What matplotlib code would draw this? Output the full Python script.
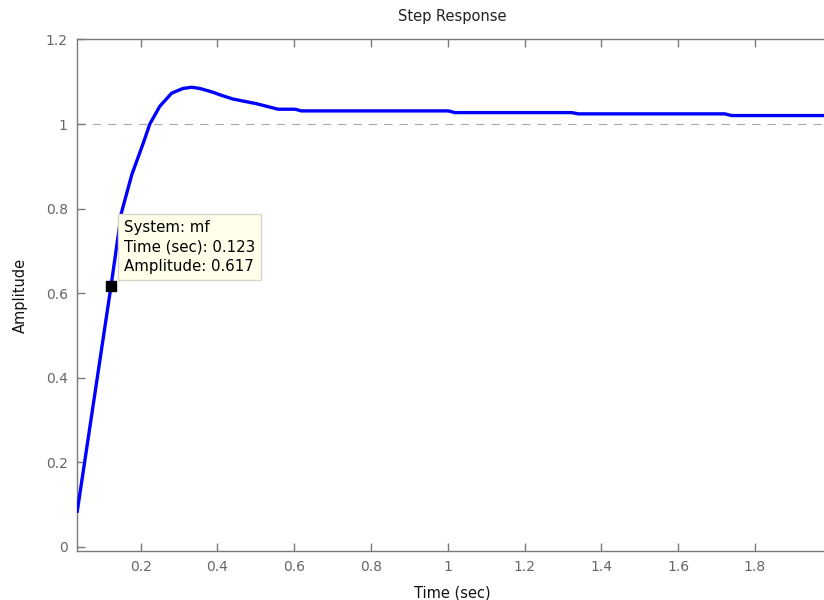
import matplotlib
matplotlib.use("Agg")
import matplotlib.pyplot as plt

plt.rcParams['font.family'] = ['DejaVu Sans']

# Step response samples of the closed-loop system "mf"
time_s = [0.035, 0.123, 0.150, 0.177, 0.207, 0.224, 0.250, 0.281, 0.310, 0.333,
          0.355, 0.389, 0.410, 0.441, 0.502, 0.558, 0.602, 0.619, 1.001, 1.019,
          1.323, 1.340, 1.722, 1.739, 1.990]
amplitude = [0.084, 0.617, 0.790, 0.880, 0.955, 1.000, 1.042, 1.073, 1.084, 1.087,
             1.084, 1.075, 1.068, 1.059, 1.048, 1.035, 1.035, 1.031, 1.031, 1.027,
             1.027, 1.024, 1.024, 1.020, 1.020]

steady_state = 1.0
tip_time = 0.123
tip_amp = 0.617
system_name = "mf"

x_ticks = [0.2, 0.4, 0.6, 0.8, 1.0, 1.2, 1.4, 1.6, 1.8]
x_tick_labels = ["0.2", "0.4", "0.6", "0.8", "1", "1.2", "1.4", "1.6", "1.8"]
y_ticks = [0, 0.2, 0.4, 0.6, 0.8, 1.0, 1.2]
y_tick_labels = ["0", "0.2", "0.4", "0.6", "0.8", "1", "1.2"]

fig = plt.figure(figsize=(8.24, 6.0), dpi=100)
ax = fig.add_axes([0.094, 0.0822, 0.9096, 0.852])

axis_gray = "#7a7a7a"
label_gray = "#666666"

ax.axhline(steady_state, color="#a8a8a8", lw=0.8, ls=(0, (7.5, 6.3)), zorder=1)
ax.plot(time_s, amplitude, color="#0000ff", lw=2.4, solid_joinstyle="round", zorder=3)
ax.plot([tip_time], [tip_amp], marker="s", ms=7.5, color="black", zorder=7)

ax.set_xlim(0.0355, 1.9878)
ax.set_ylim(-0.0095, 1.2)
ax.set_xticks(x_ticks)
ax.set_xticklabels(x_tick_labels)
ax.set_yticks(y_ticks)
ax.set_yticklabels(y_tick_labels)

for side in ("left", "bottom", "top", "right"):
    ax.spines[side].set_color(axis_gray)
    ax.spines[side].set_linewidth(1.0)
ax.tick_params(direction="in", length=5.5, width=1, color=axis_gray,
               labelcolor=label_gray, labelsize=10, pad=7,
               top=True, right=False)

ax.set_title("Step Response", fontsize=10.5, color="#222222", pad=13)
ax.set_xlabel("Time (sec)", fontsize=10.5, color="#111111", labelpad=8)
ax.set_ylabel("Amplitude", fontsize=10.5, color="#111111", labelpad=13)

# Data tip for the selected sample
ax.annotate(f"System: {system_name}\nTime (sec): {tip_time:.3f}\nAmplitude: {tip_amp:.3f}",
            xy=(tip_time, tip_amp), xytext=(12.6, 11.7), textcoords="offset pixels",
            ha="left", va="bottom", fontsize=10.8, linespacing=1.4,
            color="black", zorder=6,
            bbox=dict(boxstyle="square,pad=0.4", fc="#ffffea", ec="#d6d6c8", lw=1))

fig.savefig("out.png", dpi=100)
